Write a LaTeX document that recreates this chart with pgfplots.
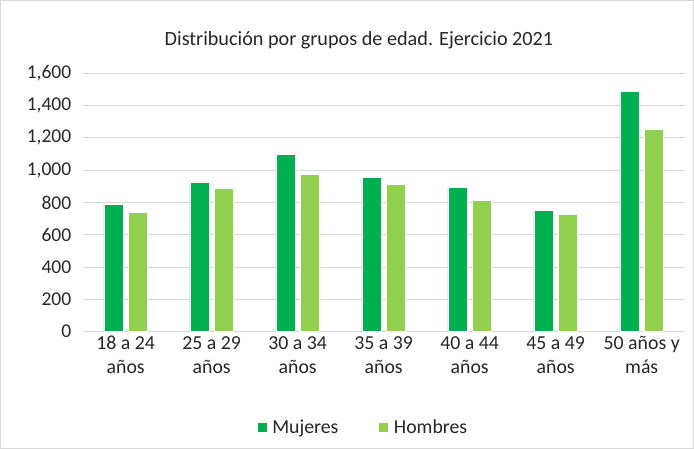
\documentclass[border=0pt]{standalone}
\usepackage{pgfplots}
\pgfplotsset{compat=1.18}
\usepackage{fontspec}
\setmainfont{Carlito}
\definecolor{muj}{HTML}{00B050}
\definecolor{hom}{HTML}{92D050}
\definecolor{grid}{HTML}{D9D9D9}
\begin{document}
\begin{tikzpicture}[x=1bp,y=1bp]
\useasboundingbox (0,0) rectangle (694,449);
\draw[color=grid,line width=0.8bp] (0.5,0.5) rectangle (693.5,448.5);
\node[font=\fontsize{20.2bp}{24bp}\selectfont,text=black!85] at (359,409) {Distribución por grupos de edad. Ejercicio 2021};
\begin{axis}[
  at={(82.7bp,117.3bp)}, anchor=south west,
  scale only axis, width=602bp, height=258.4bp,
  ybar=5.5bp, bar width=19bp,
  xmin=-0.5, xmax=6.5, ymin=0, ymax=1600,
  ytick={0,200,...,1600},
  xtick={0,...,6},
  xticklabels={{18 a 24\\años},{25 a 29\\años},{30 a 34\\años},{35 a 39\\años},{40 a 44\\años},{45 a 49\\años},{50 años y\\más}},
  x tick label style={align=center,font=\fontsize{19.8bp}{24bp}\selectfont,text=black!85,yshift=-1bp},
  y tick label style={font=\fontsize{19.5bp}{22bp}\selectfont,text=black!85,xshift=-8bp},
  /pgf/number format/assume math mode=true,
  /pgf/number format/1000 sep={,},
  axis lines*=left,
  y axis line style={draw=none},
  x axis line style={draw=grid,line width=1bp},
  major tick length=0pt,
  ymajorgrids, grid style={color=grid,line width=1bp},
  legend style={at={(0.4656,-0.325)},anchor=north,draw=none,fill=none,legend columns=2,font=\fontsize{19.8bp}{22bp}\selectfont,text=black!85,/tikz/every even column/.append style={column sep=38bp},/tikz/every odd column/.append style={column sep=3bp}},
  legend image code/.code={\fill[#1] (0bp,-5bp) rectangle (10bp,5bp);},
]
\addplot[fill=muj,draw=white,line width=0.5bp] coordinates {(0,788) (1,927) (2,1098) (3,956) (4,894) (5,751) (6,1488)};
\addplot[fill=hom,draw=white,line width=0.5bp] coordinates {(0,739) (1,890) (2,972) (3,912) (4,815) (5,729) (6,1255)};
\legend{Mujeres,Hombres}
\end{axis}
\end{tikzpicture}
\end{document}
